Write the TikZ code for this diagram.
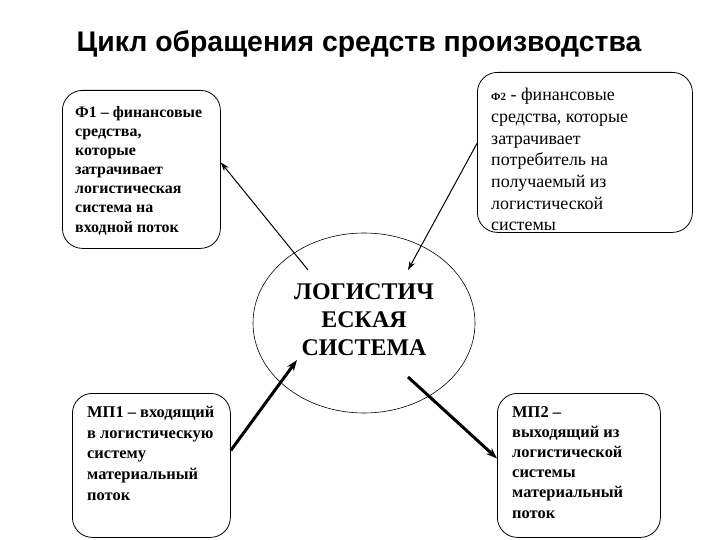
\documentclass[tikz,border=0pt]{standalone}
\usepackage{fontspec}
\setmainfont{Liberation Serif}
\newfontfamily\titlefont{Liberation Sans}
\usetikzlibrary{arrows.meta,shapes.geometric}
\tikzset{
  frame/.style={draw,line width=0.8bp,rounded corners=20bp,anchor=north west,inner sep=0pt},
  boxtext/.style={anchor=north west,align=left,inner sep=0pt},
  thinarr/.style={line width=1bp,-{Stealth[length=9bp,width=6bp]}},
  thickarr/.style={line width=3bp,-{Stealth[length=11bp,width=8bp]}}
}
\begin{document}
\begin{tikzpicture}[x=1bp,y=-1bp]
\useasboundingbox (0,0) rectangle (720,540);
\node[font=\titlefont\bfseries\fontsize{28.5}{32}\selectfont] (title) at (359,44) {Цикл обращения средств производства};

\node[frame,minimum width=158bp,minimum height=158bp] (f1box) at (62,90) {};
\node[frame,minimum width=215bp,minimum height=160bp] (f2box) at (477,72) {};
\node[frame,minimum width=158bp,minimum height=144bp] (mp1box) at (72,393) {};
\node[frame,minimum width=163bp,minimum height=144bp] (mp2box) at (497,393) {};

\node[boxtext,font=\bfseries\fontsize{16}{19.2}\selectfont] (f1text) at (75,106) {Ф1 – финансовые\\средства,\\которые\\затрачивает\\логистическая\\система на\\входной поток};
\node[boxtext,font=\fontsize{18}{21.8}\selectfont] (f2text) at (491,88) {{\bfseries\fontsize{11}{12}\selectfont Ф2} - финансовые\\средства, которые\\затрачивает\\потребитель на\\получаемый из\\логистической\\системы};
\node[boxtext,font=\bfseries\fontsize{16.5}{20.7}\selectfont] (mp1text) at (87,406) {МП1 – входящий\\в логистическую\\систему\\материальный\\поток};
\node[boxtext,font=\bfseries\fontsize{16.5}{20.3}\selectfont] (mp2text) at (512,406) {МП2 –\\выходящий из\\логистической\\системы\\материальный\\поток};

\node[draw,ellipse,line width=0.6bp,minimum width=222bp,minimum height=180bp] (ell) at (364,323) {};
\node[align=center,font=\bfseries\fontsize{24}{28}\selectfont] (elltext) at (364,320) {ЛОГИСТИЧ\\ЕСКАЯ\\СИСТЕМА};

\coordinate (f1s) at (308,270);
\coordinate (f2e) at (408,270);
\coordinate (mp1e) at (297,360);
\coordinate (mp2s) at (408,377);

\draw[thinarr] (f1s) -- ([yshift=7bp]f1box.east);
\draw[thinarr] ([yshift=9bp]f2box.west) -- (f2e);
\draw[thickarr] ([yshift=15bp]mp1box.east) -- (mp1e);
\draw[thickarr] (mp2s) -- ([yshift=7bp]mp2box.west);
\end{tikzpicture}
\end{document}
